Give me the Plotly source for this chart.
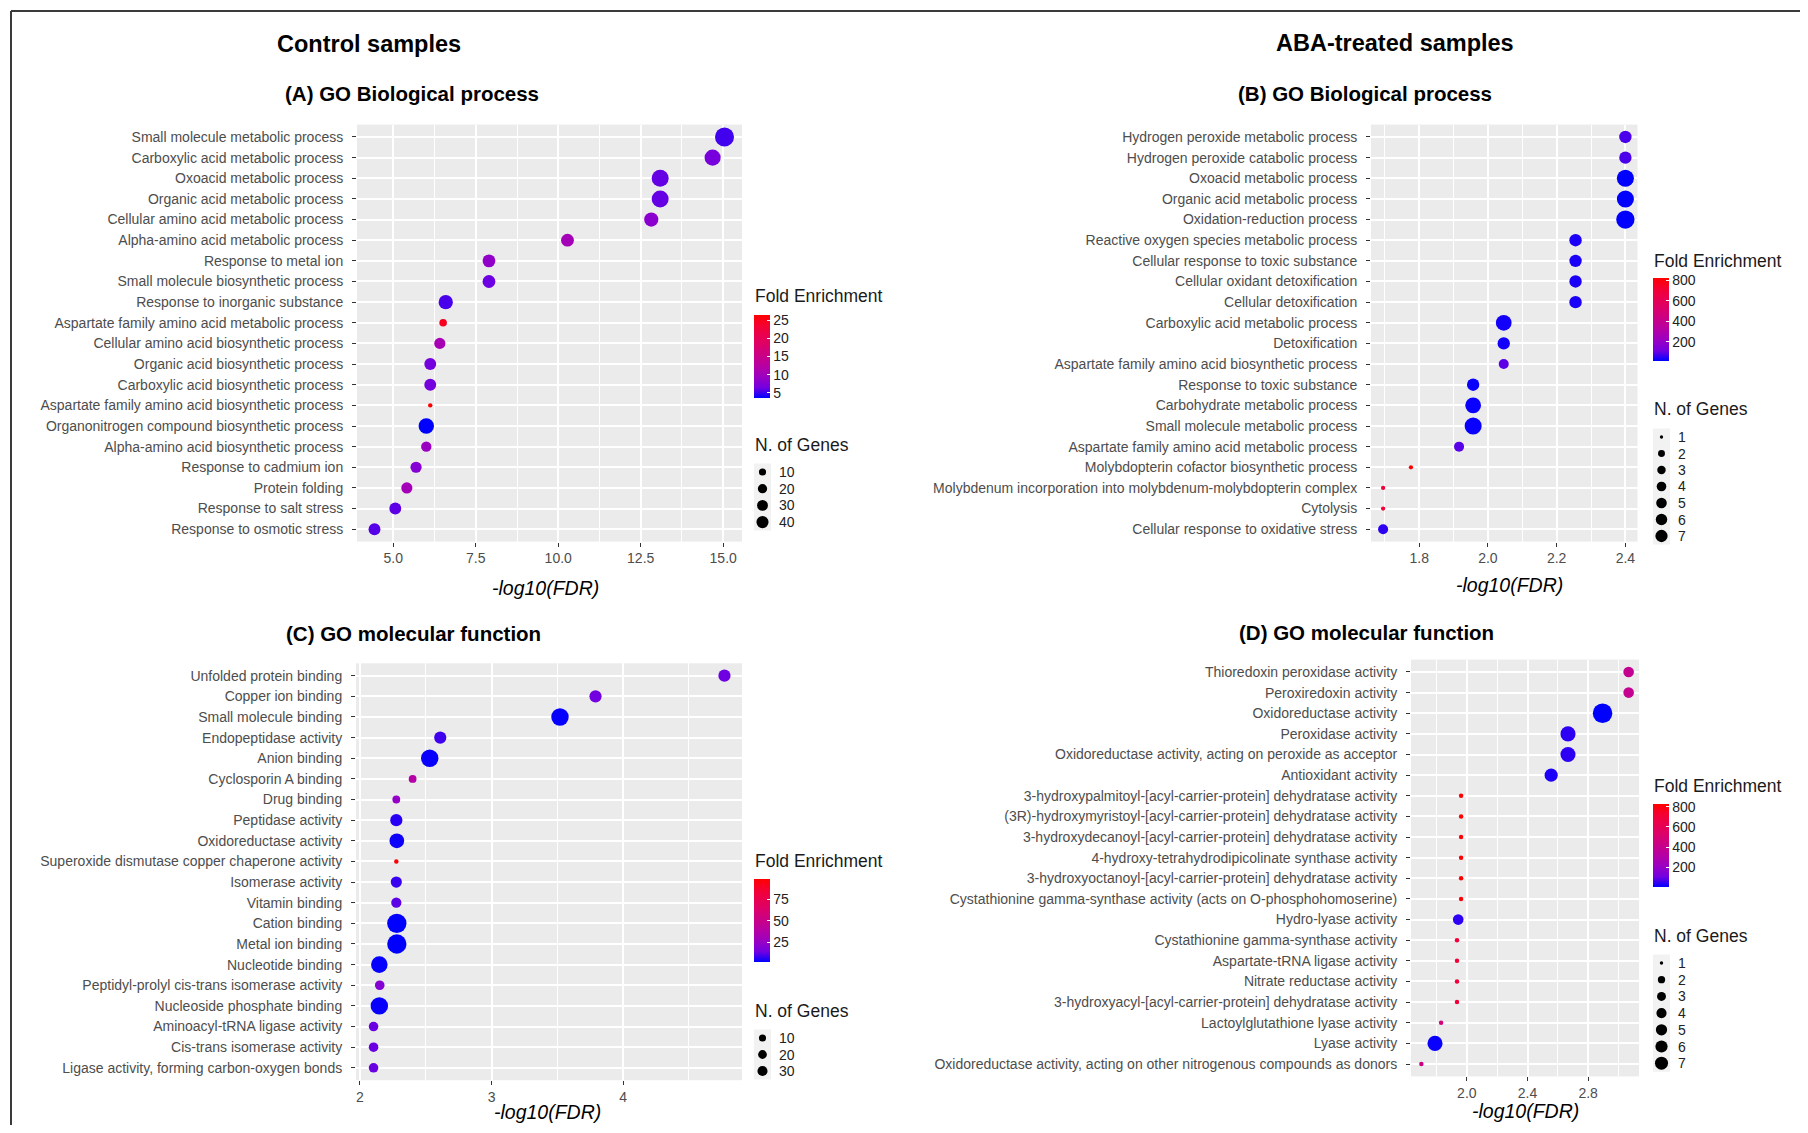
import math
import plotly.graph_objects as go

W, H = 1808, 1133
PAGE_OFF = 8  # browser body margin around the plot div
FW, FH = W - 2 * PAGE_OFF, H - 2 * PAGE_OFF

# ---------------- data ----------------
A_TERMS = [
    "Small molecule metabolic process", "Carboxylic acid metabolic process",
    "Oxoacid metabolic process", "Organic acid metabolic process",
    "Cellular amino acid metabolic process", "Alpha-amino acid metabolic process",
    "Response to metal ion", "Small molecule biosynthetic process",
    "Response to inorganic substance", "Aspartate family amino acid metabolic process",
    "Cellular amino acid biosynthetic process", "Organic acid biosynthetic process",
    "Carboxylic acid biosynthetic process", "Aspartate family amino acid biosynthetic process",
    "Organonitrogen compound biosynthetic process", "Alpha-amino acid biosynthetic process",
    "Response to cadmium ion", "Protein folding", "Response to salt stress",
    "Response to osmotic stress",
]
A_FDR = [15.04, 14.68, 13.09, 13.09, 12.82, 10.28, 7.90, 7.90, 6.59, 6.51,
         6.41, 6.12, 6.12, 6.12, 6.00, 6.00, 5.69, 5.41, 5.06, 4.43]
A_GENES = [45, 30, 34, 34, 22, 17, 17, 17, 22, 5, 12, 14, 14, 3, 27, 10, 12, 12, 14, 14]
A_FOLD = [5.2, 6.8, 6.1, 6.1, 8.2, 10.4, 8.6, 6.3, 5.4, 24.6,
          10.7, 6.6, 6.6, 26.4, 3.6, 9.3, 7.7, 10.4, 5.9, 5.7]
A_X_TICKS = [5.0, 7.5, 10.0, 12.5, 15.0]
A_FOLD_TICKS = [5, 10, 15, 20, 25]
A_GENE_BREAKS = [10, 20, 30, 40]

B_TERMS = [
    "Hydrogen peroxide metabolic process", "Hydrogen peroxide catabolic process",
    "Oxoacid metabolic process", "Organic acid metabolic process",
    "Oxidation-reduction process", "Reactive oxygen species metabolic process",
    "Cellular response to toxic substance", "Cellular oxidant detoxification",
    "Cellular detoxification", "Carboxylic acid metabolic process", "Detoxification",
    "Aspartate family amino acid biosynthetic process", "Response to toxic substance",
    "Carbohydrate metabolic process", "Small molecule metabolic process",
    "Aspartate family amino acid metabolic process",
    "Molybdopterin cofactor biosynthetic process",
    "Molybdenum incorporation into molybdenum-molybdopterin complex",
    "Cytolysis", "Cellular response to oxidative stress",
]
B_FDR = [2.40, 2.40, 2.40, 2.40, 2.40, 2.255, 2.255, 2.255, 2.255, 2.046,
         2.046, 2.046, 1.957, 1.957, 1.957, 1.916, 1.776, 1.695, 1.695, 1.695]
B_GENES = [3, 3, 6, 6, 7, 3, 3, 3, 3, 5, 3, 2, 3, 5, 6, 2, 1, 1, 1, 2]
B_FOLD = [77, 77, 12, 14, 13, 36, 36, 36, 36, 28, 28, 93, 20, 20, 20, 90, 825, 703, 703, 53]
B_X_TICKS = [1.8, 2.0, 2.2, 2.4]
B_FOLD_TICKS = [200, 400, 600, 800]
B_GENE_BREAKS = [1, 2, 3, 4, 5, 6, 7]

C_TERMS = [
    "Unfolded protein binding", "Copper ion binding", "Small molecule binding",
    "Endopeptidase activity", "Anion binding", "Cyclosporin A binding", "Drug binding",
    "Peptidase activity", "Oxidoreductase activity",
    "Superoxide dismutase copper chaperone activity", "Isomerase activity",
    "Vitamin binding", "Cation binding", "Metal ion binding", "Nucleotide binding",
    "Peptidyl-prolyl cis-trans isomerase activity", "Nucleoside phosphate binding",
    "Aminoacyl-tRNA ligase activity", "Cis-trans isomerase activity",
    "Ligase activity, forming carbon-oxygen bonds",
]
C_FDR = [4.77, 3.79, 3.52, 2.61, 2.53, 2.40, 2.276, 2.276, 2.28, 2.276,
         2.276, 2.276, 2.28, 2.28, 2.147, 2.15, 2.147, 2.103, 2.103, 2.103]
C_GENES = [17, 17, 46, 17, 46, 4, 4, 17, 29, 1, 13, 10, 60, 60, 40, 8, 46, 8, 8, 8]
C_FOLD = [13.5, 13.8, 2.3, 8.6, 2.6, 37.8, 24.2, 5.7, 3.2, 99,
          7.6, 11.5, 1.8, 1.9, 2.4, 19.3, 2.5, 13, 13, 13]
C_X_TICKS = [2, 3, 4]
C_FOLD_TICKS = [25, 50, 75]
C_GENE_BREAKS = [10, 20, 30]

D_TERMS = [
    "Thioredoxin peroxidase activity", "Peroxiredoxin activity", "Oxidoreductase activity",
    "Peroxidase activity", "Oxidoreductase activity, acting on peroxide as acceptor",
    "Antioxidant activity",
    "3-hydroxypalmitoyl-[acyl-carrier-protein] dehydratase activity",
    "(3R)-hydroxymyristoyl-[acyl-carrier-protein] dehydratase activity",
    "3-hydroxydecanoyl-[acyl-carrier-protein] dehydratase activity",
    "4-hydroxy-tetrahydrodipicolinate synthase activity",
    "3-hydroxyoctanoyl-[acyl-carrier-protein] dehydratase activity",
    "Cystathionine gamma-synthase activity (acts on O-phosphohomoserine)",
    "Hydro-lyase activity", "Cystathionine gamma-synthase activity",
    "Aspartate-tRNA ligase activity", "Nitrate reductase activity",
    "3-hydroxyacyl-[acyl-carrier-protein] dehydratase activity",
    "Lactoylglutathione lyase activity", "Lyase activity",
    "Oxidoreductase activity, acting on other nitrogenous compounds as donors",
]
D_FDR = [3.067, 3.067, 2.895, 2.667, 2.667, 2.556, 1.962, 1.962, 1.962, 1.962,
         1.962, 1.962, 1.943, 1.935, 1.935, 1.935, 1.935, 1.83, 1.79, 1.70]
D_GENES = [2, 2, 7, 4, 4, 3, 1, 1, 1, 1, 1, 1, 2, 1, 1, 1, 1, 1, 4, 1]
D_FOLD = [392, 392, 8, 49, 49, 33, 826, 826, 826, 826, 826, 826, 49, 703, 703, 703, 703, 466, 16, 417]
D_X_TICKS = [2.0, 2.4, 2.8]
D_FOLD_TICKS = [200, 400, 600, 800]
D_GENE_BREAKS = [1, 2, 3, 4, 5, 6, 7]

MAIN_TITLES = ["Control samples", "ABA-treated samples"]
PANEL_TITLES = ["(A) GO Biological process", "(B) GO Biological process",
                "(C) GO molecular function", "(D) GO molecular function"]
X_TITLE = "-log10(FDR)"
FE_TITLE = "Fold Enrichment"
NG_TITLE = "N. of Genes"

# ---------------- style ----------------
BASE = "Liberation Sans, Arial, Helvetica, sans-serif"
TICK_COL = "#4D4D4D"
PANEL_BG = "#EBEBEB"
CS = [[0, "#0000FF"], [0.125, "#7300E0"], [0.25, "#9A00C2"], [0.375, "#B500A5"],
      [0.5, "#C80088"], [0.625, "#DA006C"], [0.75, "#E80050"], [0.875, "#F40031"],
      [1, "#FF0000"]]
STROKE = 1.5
LEG_K = 0.64

panels = [
    dict(terms=A_TERMS, fdr=A_FDR, genes=A_GENES, fold=A_FOLD, xt=A_X_TICKS, xfmt="{:.1f}",
         box=(357, 124.6, 742, 541.6), minor=(3.75, 1.25), s=2.92,
         ftick=A_FOLD_TICKS, gbreaks=A_GENE_BREAKS, title_xy=(412, 94), xlab_xy=(545, 588),
         leg_x=754, fe_y=296, cb_top=315, ng_y=445, ng_y0=472, ng_dy=16.7),
    dict(terms=B_TERMS, fdr=B_FDR, genes=B_GENES, fold=B_FOLD, xt=B_X_TICKS, xfmt="{:.1f}",
         box=(1371, 124.6, 1637.5, 541.6), minor=(1.7, 0.1), s=2.8,
         ftick=B_FOLD_TICKS, gbreaks=B_GENE_BREAKS, title_xy=(1365, 94), xlab_xy=(1509, 585),
         leg_x=1653, fe_y=261, cb_top=278, ng_y=409, ng_y0=437, ng_dy=16.5),
    dict(terms=C_TERMS, fdr=C_FDR, genes=C_GENES, fold=C_FOLD, xt=C_X_TICKS, xfmt="{:d}",
         box=(356, 663.3, 742, 1080.2), minor=(1.5, 0.5), s=2.97,
         ftick=C_FOLD_TICKS, gbreaks=C_GENE_BREAKS, title_xy=(413, 633), xlab_xy=(547, 1112),
         leg_x=754, fe_y=861, cb_top=879, ng_y=1011, ng_y0=1038, ng_dy=16.5),
    dict(terms=D_TERMS, fdr=D_FDR, genes=D_GENES, fold=D_FOLD, xt=D_X_TICKS, xfmt="{:.1f}",
         box=(1411, 659.6, 1639, 1076.4), minor=(1.6, 0.2), s=3.0,
         ftick=D_FOLD_TICKS, gbreaks=D_GENE_BREAKS, title_xy=(1366, 632), xlab_xy=(1525, 1111),
         leg_x=1653, fe_y=786, cb_top=804, ng_y=936, ng_y0=963, ng_dy=16.7),
]


def px(x):
    """screen pixel x -> paper fraction"""
    return (x - PAGE_OFF) / FW


def py(y):
    """screen pixel y -> paper fraction"""
    return 1 - (y - PAGE_OFF) / FH


def size_fn(n, nmin, nmax, s):
    t = (n - nmin) / (nmax - nmin)
    return s * (1 + 5 * math.sqrt(max(t, 0))) + STROKE


fig = go.Figure()
shapes = []
annotations = []
layout = dict(width=FW, height=FH, margin=dict(l=0, r=0, t=0, b=0),
              paper_bgcolor="white", plot_bgcolor=PANEL_BG, showlegend=False,
              template="none", font=dict(family=BASE, size=14, color="#222222"))

for i, p in enumerate(panels):
    k = "" if i == 0 else str(i + 1)
    nmin, nmax = min(p["genes"]), max(p["genes"])
    sizes = [size_fn(n, nmin, nmax, p["s"]) for n in p["genes"]]
    fig.add_trace(go.Scatter(
        x=p["fdr"], y=p["terms"], mode="markers",
        marker=dict(size=sizes, color=p["fold"], coloraxis="coloraxis" + k,
                    line=dict(width=0), opacity=1),
        xaxis="x" + k, yaxis="y" + k, hoverinfo="x+y"))
    x0, y0, x1, y1 = p["box"]
    lo, hi = min(p["fdr"]), max(p["fdr"])
    pad = 0.05 * (hi - lo)
    n = len(p["terms"])
    layout["xaxis" + k] = dict(
        domain=[px(x0), px(x1)], anchor="y" + k, range=[lo - pad, hi + pad],
        tickvals=p["xt"], ticktext=[p["xfmt"].format(v) for v in p["xt"]],
        showgrid=True, gridcolor="white", gridwidth=1.6, zeroline=False, showline=False,
        ticks="outside", ticklen=4, tickwidth=1, tickcolor="#333333",
        tickfont=dict(size=14, color=TICK_COL, family=BASE), automargin=False,
        minor=dict(tick0=p["minor"][0], dtick=p["minor"][1], showgrid=True,
                   gridcolor="white", gridwidth=0.8, ticks=""))
    layout["yaxis" + k] = dict(
        domain=[py(y1), py(y0)], anchor="x" + k, type="category",
        categoryorder="array", categoryarray=p["terms"], range=[n - 0.4, -0.6],
        showgrid=True, gridcolor="white", gridwidth=1.6, zeroline=False, showline=False,
        ticks="outside", ticklen=4, tickwidth=1, tickcolor="#333333",
        ticklabelstandoff=6,
        tickfont=dict(size=14, color=TICK_COL, family=BASE), automargin=False)
    layout["coloraxis" + k] = dict(
        colorscale=CS, cmin=min(p["fold"]), cmax=max(p["fold"]),
        colorbar=dict(x=px(p["leg_x"]), xanchor="left", y=py(p["cb_top"]), yanchor="top",
                      len=83, lenmode="pixels", thickness=16, thicknessmode="pixels",
                      xpad=0, ypad=0, outlinewidth=0, tickvals=p["ftick"],
                      ticks="inside", ticklen=3, tickcolor="white", tickwidth=1,
                      tickfont=dict(size=14, color="#222222", family=BASE)))
    # panel title
    annotations.append(dict(x=px(p["title_xy"][0]), y=py(p["title_xy"][1]), xref="paper",
                            yref="paper", text="<b>" + PANEL_TITLES[i] + "</b>",
                            showarrow=False, xanchor="center", yanchor="middle",
                            font=dict(family=BASE, size=20.5, color="black")))
    # x axis title
    annotations.append(dict(x=px(p["xlab_xy"][0]), y=py(p["xlab_xy"][1]), xref="paper",
                            yref="paper", text="<i>" + X_TITLE + "</i>", showarrow=False,
                            xanchor="center", yanchor="middle",
                            font=dict(family=BASE, size=19.5, color="black")))
    # legend titles
    for txt, ty in ((FE_TITLE, p["fe_y"]), (NG_TITLE, p["ng_y"])):
        annotations.append(dict(x=px(p["leg_x"] - 1), y=py(ty), xref="paper", yref="paper",
                                text=txt, showarrow=False, xanchor="left", yanchor="middle",
                                font=dict(family=BASE, size=17.5, color="#1A1A1A")))
    # size legend
    cx = p["leg_x"] + 8.5
    nb = len(p["gbreaks"])
    shapes.append(dict(type="rect", xref="paper", yref="paper", layer="below",
                       x0=px(cx - 8.5), x1=px(cx + 8.5),
                       y0=py(p["ng_y0"] + (nb - 1) * p["ng_dy"] + 8.5),
                       y1=py(p["ng_y0"] - 8.5),
                       fillcolor="#F2F2F2", line=dict(width=0)))
    for j, b in enumerate(p["gbreaks"]):
        cy = p["ng_y0"] + j * p["ng_dy"]
        d = LEG_K * (size_fn(b, nmin, nmax, p["s"]) - STROKE) + STROKE
        shapes.append(dict(type="circle", xref="paper", yref="paper", layer="above",
                           xsizemode="pixel", ysizemode="pixel",
                           xanchor=px(cx), yanchor=py(cy),
                           x0=-d / 2, x1=d / 2, y0=-d / 2, y1=d / 2,
                           fillcolor="black", line=dict(width=0)))
        annotations.append(dict(x=px(cx + 14), y=py(cy), xref="paper", yref="paper",
                                text=str(b), showarrow=False, xanchor="left",
                                yanchor="middle",
                                font=dict(family=BASE, size=14, color="#222222")))

# main titles
for txt, (tx, ty) in zip(MAIN_TITLES, [(369, 44), (1395, 43)]):
    annotations.append(dict(x=px(tx), y=py(ty), xref="paper", yref="paper",
                            text="<b>" + txt + "</b>", showarrow=False,
                            xanchor="center", yanchor="middle",
                            font=dict(family=BASE, size=23.5, color="black")))

# frame (top and left edges of the cropped box)
shapes.append(dict(type="line", xref="paper", yref="paper", x0=px(11), x1=1,
                   y0=py(11), y1=py(11), line=dict(color="#3A3A3A", width=2)))
shapes.append(dict(type="line", xref="paper", yref="paper", x0=px(11), x1=px(11),
                   y0=py(11), y1=0, line=dict(color="#3A3A3A", width=2)))

layout["shapes"] = shapes
layout["annotations"] = annotations
fig.update_layout(**layout)
fig.write_html("out.html")
